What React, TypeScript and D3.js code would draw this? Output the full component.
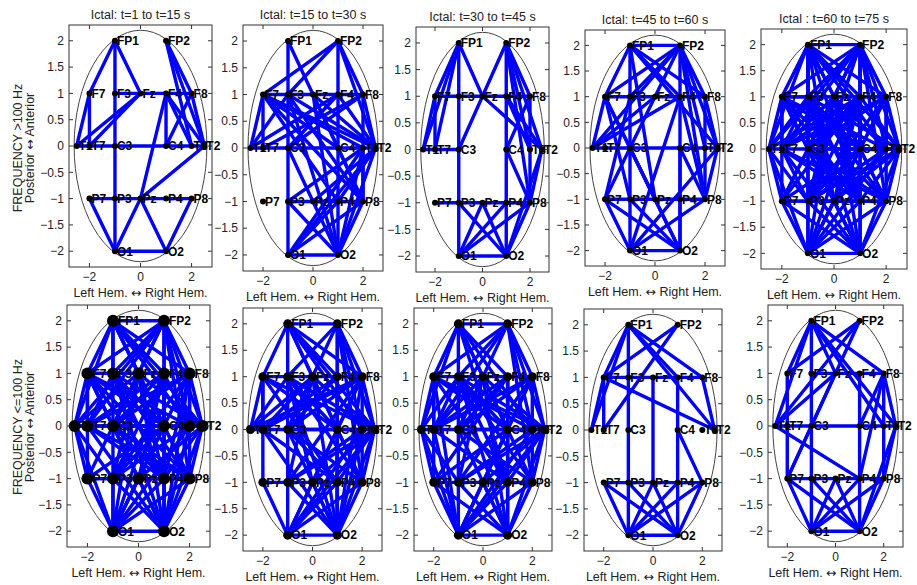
import React from 'react';
import * as d3 from 'd3';

// electrode montage (scalp coordinates)
const NODES = ['FP1', 'FP2', 'F7', 'F3', 'Fz', 'F4', 'F8', 'T1', 'T7', 'C3', 'C4', 'T8', 'T2', 'P7', 'P3', 'Pz', 'P4', 'P8', 'O1', 'O2'];
const NODE_X = [-1, 1, -2, -1, 0, 1, 2, -2.5, -2, -1, 1, 2, 2.5, -2, -1, 0, 1, 2, -1, 1];
const NODE_Y = [2, 2, 1, 1, 1, 1, 1, 0, 0, 0, 0, 0, 0, -1, -1, -1, -1, -1, -2, -2];

const TITLES = ['Ictal: t=1 to t=15 s', 'Ictal: t=15 to t=30 s', 'Ictal: t=30 to t=45 s', 'Ictal: t=45 to t=60 s', 'Ictal : t=60 to t=75 s'];
const ROW_LABELS = ['FREQUENCY >100 Hz', 'FREQUENCY <=100 Hz'];
const Y_TICKS = [-2, -1.5, -1, -0.5, 0, 0.5, 1, 1.5, 2];
const X_TICKS = [-2, 0, 2];

// >100 Hz networks
const HI_1 = 'FP1-O1 FP1-F7 FP1-Fz F7-T1 F7-T7 T1-Fz T7-Fz F3-Fz Fz-F4 F4-F8 T1-T7 T7-C3 C3-C4 C4-T8 T8-T2 FP2-F8 FP2-T8 FP2-T2 F4-C4 F4-T8 F4-T2 F4-Pz F8-C4 F8-T2 T2-Pz P7-P3 P3-Pz Pz-P4 P4-P8 P7-O1 P8-O2 O1-O2 O1-Pz Pz-O2'.split(' ');
const HI_2 = 'FP1-O1 FP2-O2 FP1-C4 FP2-F8 FP2-T2 FP2-F3 FP2-F7 F7-T1 F7-T7 F7-F3 F3-Fz Fz-F4 F4-F8 T1-T7 T7-C3 C3-C4 C4-T8 T8-T2 F7-T2 F7-T8 F7-P4 F7-P8 F7-C4 T1-F4 T1-F3 T7-F8 C3-F8 C3-F4 F3-T2 F3-P8 Fz-T2 Fz-P8 Fz-O2 F8-P8 F8-T2 F4-T2 P3-Pz Pz-P4 P4-P8 O1-O2 O1-T2 O1-T8 O1-P8 O1-P4 O2-T2 O2-T8 O2-P8 O2-P3 Pz-T2 P4-T2 P3-T8 C3-O2 F3-O2 T8-P8 C4-P8'.split(' ');
const HI_3 = 'FP1-O1 FP2-O2 FP1-F7 FP1-T1 FP1-T7 FP1-Fz FP2-C3 FP2-F8 FP2-T8 FP2-T2 FP2-P8 F7-T1 F7-T7 F7-F3 F3-Fz Fz-F4 F4-F8 Fz-T2 F4-T2 F4-T8 F8-C4 F8-P8 T2-P8 T1-T7 T7-C3 C4-P8 P7-P3 P3-Pz Pz-P4 P4-P8 O1-O2 O1-P4 O1-P8 Pz-O2 P3-O2 Pz-O1 O2-P8 O2-T2'.split(' ');
const HI_4 = 'FP1-FP2 FP1-O1 FP2-O2 FP1-F7 FP1-F4 FP1-F8 FP1-T2 FP1-Pz FP2-F7 FP2-F3 FP2-T1 FP2-C3 FP2-F8 FP2-T8 FP2-T2 FP2-P8 F7-F3 F3-Fz Fz-F4 F4-F8 F7-T1 F7-P3 F7-Pz F7-O2 T1-F4 T1-Fz T1-T7 T7-C3 C3-C4 C4-T8 T8-T2 C3-P7 C3-O2 P7-P3 P3-Pz Pz-P4 P4-P8 P7-O1 P7-F3 O1-O2 O1-P8 O1-T2 O1-F4 O2-P7 O2-P3 P8-F8 P8-C4 P8-T2 P8-F4 F8-T2 C4-O2'.split(' ');
const HI_5 = 'FP1-FP2 FP1-F7 FP1-T1 FP1-F3 FP1-C3 FP1-P3 FP1-O1 FP1-Fz FP1-F4 FP1-F8 FP1-T8 FP1-T2 FP1-P4 FP1-Pz FP1-C4 FP2-F7 FP2-F3 FP2-Fz FP2-C3 FP2-T7 FP2-P3 FP2-F8 FP2-T8 FP2-T2 FP2-P8 FP2-O2 FP2-C4 FP2-P4 FP2-T1 F7-T1 F7-T7 F7-F3 F7-C3 F7-P7 F7-C4 F7-T8 F7-P4 F7-P8 F7-O2 F7-Pz F7-F8 F3-T1 F3-T7 F3-Fz F3-C4 F3-T2 F3-P8 F3-P4 F3-O2 F3-Pz Fz-T7 Fz-C3 Fz-F4 Fz-C4 Fz-T8 Fz-P3 Fz-P7 Fz-P4 Fz-O1 Fz-O2 Fz-P8 F4-F8 F4-T7 F4-C3 F4-C4 F4-T2 F4-P3 F4-P7 F4-Pz F4-O1 F4-T1 F8-T2 F8-T8 F8-C4 F8-P8 F8-C3 F8-P3 F8-O1 F8-T7 T1-T7 T1-P7 T1-P3 T1-O1 T7-C3 T7-P4 T7-P8 T7-P3 T7-O2 C3-C4 C3-P4 C3-P8 C3-O2 C3-T2 C3-P7 C4-T8 C4-P3 C4-P7 C4-O1 C4-P8 C4-Pz T8-T2 T8-P3 T8-O1 T8-Pz T2-P8 T2-O2 T2-P4 T2-Pz T2-P3 P7-P3 P7-O1 P7-O2 P7-P4 P3-Pz P3-O1 P3-O2 P3-P8 Pz-P4 Pz-O1 Pz-O2 P4-P8 P4-O1 P4-O2 P8-O1 P8-O2 O1-O2'.split(' ');

// <=100 Hz networks
const LO_1 = 'FP1-FP2 FP1-F7 FP1-T1 FP1-F3 FP1-O1 FP1-Fz FP1-F4 FP1-F8 FP1-T2 FP1-C4 FP1-P8 FP1-T8 FP2-F7 FP2-F3 FP2-Fz FP2-C3 FP2-T7 FP2-F8 FP2-T2 FP2-T8 FP2-O2 FP2-P8 FP2-P4 FP2-T1 F7-T1 F7-T7 F7-F3 F7-P7 F7-C4 F7-T8 F7-P4 F7-O2 F7-F8 F7-Pz F7-C3 F7-P8 F3-T7 F3-Fz F3-C4 F3-T2 F3-P8 F3-O2 F3-P4 Fz-T1 Fz-C3 Fz-F4 Fz-C4 Fz-T2 Fz-P3 Fz-P4 Fz-O1 Fz-O2 Fz-P7 F4-F8 F4-T7 F4-C3 F4-C4 F4-T8 F4-P3 F4-Pz F4-O1 F4-O2 F8-T2 F8-T8 F8-C3 F8-P8 F8-P3 F8-O1 F8-O2 F8-T7 F8-P4 T1-T7 T1-P7 T1-O1 T1-P3 T1-C4 T7-C3 T7-P4 T7-P8 T7-O2 C3-C4 C3-P8 C3-O2 C3-T2 C3-P4 C4-T8 C4-P3 C4-O1 C4-P8 C4-P7 T8-T2 T8-P3 T8-O1 T8-O2 T2-P8 T2-O2 T2-P4 T2-Pz P7-P3 P7-O1 P7-P4 P3-Pz P3-O1 P3-O2 Pz-P4 Pz-O1 Pz-O2 P4-P8 P4-O1 P4-O2 P8-O1 P8-O2 O1-O2'.split(' ');
const LO_2 = 'FP1-FP2 FP1-O1 FP1-F7 FP1-Fz FP1-F4 FP1-C4 FP1-T8 FP1-F8 FP1-T2 FP2-F8 FP2-T8 FP2-T2 FP2-P8 FP2-O2 FP2-F3 FP2-C3 FP2-P4 F7-T1 F7-T7 F7-F3 F7-P7 F7-C4 F7-T2 F7-P4 F3-Fz F3-T1 F3-C4 F3-T2 F3-P8 F3-O2 F3-Pz Fz-F4 Fz-T1 Fz-T7 Fz-C3 Fz-P3 Fz-P8 Fz-O2 Fz-T2 F4-F8 F4-T7 F4-C3 F4-P4 F4-O2 F8-T2 F8-P8 F8-C3 F8-T7 F8-Pz F8-P3 F8-O1 F8-O2 F8-T1 T1-T7 T7-C3 T7-P4 T7-O2 C3-C4 C3-T2 C3-P4 C3-P8 C3-O2 C4-T8 C4-P8 C4-O2 T8-T2 T8-O1 T8-O2 T2-P8 T2-O2 T2-O1 T2-Pz T2-P4 T2-P3 P7-P3 P7-O1 P3-Pz P3-O2 P3-T8 Pz-P4 Pz-O1 Pz-O2 P4-P8 P4-O1 P4-O2 P8-O1 P8-O2 O1-O2'.split(' ');
const LO_3 = 'FP1-FP2 FP1-O1 FP1-F7 FP1-T1 FP1-Fz FP1-F4 FP1-C4 FP1-T8 FP1-P4 FP2-F7 FP2-F3 FP2-C3 FP2-T7 FP2-F8 FP2-T2 FP2-T8 FP2-P8 F7-T1 F7-T7 F7-P7 F7-F3 F7-C4 F7-T2 F7-P4 F7-O1 F7-T8 F3-Fz F3-T1 F3-T7 F3-C4 F3-T2 F3-P8 F3-P4 F3-O2 Fz-F4 Fz-T7 Fz-C3 Fz-P3 Fz-T2 Fz-P8 Fz-O2 F4-F8 F4-C4 F4-P4 F4-O2 F4-T7 F4-C3 F4-P7 F8-T2 F8-P8 F8-C3 F8-T7 F8-P3 F8-Pz F8-O1 T1-T7 T1-P7 T1-O1 T1-P3 T7-C3 T7-P4 T7-O1 C3-C4 C3-P8 C3-O2 C3-T2 C4-T8 C4-P7 C4-O1 T8-T2 T8-O1 T8-P3 T2-P8 T2-O2 T2-O1 T2-Pz T2-P3 T2-P4 P7-P3 P7-O1 P7-O2 P3-Pz P3-O2 Pz-P4 Pz-O2 Pz-O1 P4-P8 P4-O1 P4-O2 P8-O1 P8-O2 O1-O2'.split(' ');
const LO_4 = 'FP1-O1 FP1-F7 FP1-T1 FP1-F4 FP1-F8 FP1-T2 FP2-F7 FP2-T7 F7-F3 F3-Fz Fz-F4 F4-F8 F7-T1 F7-T7 F7-T2 F8-T2 Fz-Pz F4-O2 C4-P8 P7-P3 P3-Pz Pz-P4 P4-P8 P7-O1 P7-O2 P3-O2 Pz-O1 Pz-O2 P4-O1 P8-O1 P8-O2 O1-O2'.split(' ');
const LO_5 = 'FP1-O1 FP1-F7 FP1-T1 FP1-Fz FP1-F8 FP1-T8 FP1-T2 FP2-F7 FP2-C3 FP2-T1 F3-Fz Fz-F4 F4-F8 F4-O2 F8-T2 F8-C4 F8-P8 T1-T7 T7-C3 C3-C4 C4-T8 T8-T2 T1-P4 T1-Fz F7-P7 C3-P7 Fz-P7 P7-P3 P3-Pz Pz-P4 P4-P8 P7-O1 P7-O2 P3-O2 Pz-O1 Pz-O2 P4-O1 P8-O1 P8-O2 T2-O2 T2-P8 O1-O2 F8-P4'.split(' ');

const EDGES = [HI_1, HI_2, HI_3, HI_4, HI_5, LO_1, LO_2, LO_3, LO_4, LO_5];

// panel boxes in page pixels
const BOXES = [
  [69, 212, 25, 267], [243, 383, 25, 271], [416, 549, 27, 272], [585, 725, 30, 266], [761, 907, 29, 269],
  [67, 210, 305, 547], [243, 382, 308, 551], [414, 552, 308, 551], [584, 722, 309, 551], [768, 903, 305, 547],
];
const DOT_R = [3, 3, 3, 3, 3, 6, 4.5, 4.5, 3, 3];

const FONT = '"Liberation Sans", Arial, Helvetica, sans-serif';
const ARROW_FONT = '"DejaVu Sans", sans-serif';
const fmt = (v: number) => (v < 0 ? '\u2212' + Math.abs(v) : String(v));

function Panel({ idx }: { idx: number }) {
  const [bx0, bx1, by0, by1] = BOXES[idx];
  const x = d3.scaleLinear().domain([-2.8, 2.8]).range([bx0, bx1]);
  const y = d3.scaleLinear().domain([-2.3, 2.3]).range([by1, by0]);
  const pos = (name: string) => {
    const i = NODES.indexOf(name);
    return [x(NODE_X[i]), y(NODE_Y[i])];
  };
  const r = DOT_R[idx];
  const row = idx < 5 ? 0 : 1;
  return (
    <g>
      <rect x={bx0} y={by0} width={bx1 - bx0} height={by1 - by0} fill="#fff" stroke="#333" strokeWidth={1} />
      <ellipse cx={x(0)} cy={y(0)} rx={x(2.6) - x(0)} ry={y(0) - y(2.2)} fill="none" stroke="#444" strokeWidth={1} />
      {EDGES[idx].map((e, k) => {
        const [a, b] = e.split('-');
        const [x1, y1] = pos(a);
        const [x2, y2] = pos(b);
        return <line key={k} x1={x1} y1={y1} x2={x2} y2={y2} stroke="#0000ff" strokeWidth={3.4} strokeLinecap="round" />;
      })}
      {NODES.map((n, i) => (
        <circle key={n} cx={x(NODE_X[i])} cy={y(NODE_Y[i])} r={r} fill="#000" />
      ))}
      {NODES.map((n, i) => (
        <text key={n} x={x(NODE_X[i]) + Math.max(2, r - 1)} y={y(NODE_Y[i])} dy="0.36em" fontSize={12} fontWeight="bold" fill="#000">{n}</text>
      ))}
      {Y_TICKS.map(t => (
        <g key={t}>
          <line x1={bx0} x2={bx0 + 4} y1={y(t)} y2={y(t)} stroke="#333" />
          <line x1={bx1} x2={bx1 - 4} y1={y(t)} y2={y(t)} stroke="#333" />
          <text x={bx0 - 5} y={y(t)} dy="0.35em" textAnchor="end" fontSize={12} fill="#222">{fmt(t)}</text>
        </g>
      ))}
      {X_TICKS.map(t => (
        <g key={t}>
          <line x1={x(t)} x2={x(t)} y1={by1} y2={by1 - 4} stroke="#333" />
          <line x1={x(t)} x2={x(t)} y1={by0} y2={by0 + 4} stroke="#333" />
          <text x={x(t)} y={by1 + 14} textAnchor="middle" fontSize={12} fill="#222">{fmt(t)}</text>
        </g>
      ))}
      <text x={(bx0 + bx1) / 2} y={by1 + 30} textAnchor="middle" fontSize={12.5} fill="#222">
        Left Hem. <tspan fontFamily={ARROW_FONT}>↔</tspan> Right Hem.
      </text>
      {row === 0 && (
        <text x={(bx0 + bx1) / 2} y={by0 - 6} textAnchor="middle" fontSize={12.5} fill="#222">{TITLES[idx]}</text>
      )}
    </g>
  );
}

export default function App() {
  const W = 917, H = 585;
  return (
    <div style={{ position: 'absolute', left: 0, top: 0 }}>
      <svg width={W} height={H} style={{ display: 'block', background: '#fff', fontFamily: FONT }}>
        {EDGES.map((_, i) => <Panel key={i} idx={i} />)}
        {ROW_LABELS.map((lab, r) => {
          const cy = r === 0 ? 148 : 427;
          return (
            <g key={lab}>
              <text transform={`translate(22,${cy}) rotate(-90)`} textAnchor="middle" fontSize={12.5} fill="#222">{lab}</text>
              <text transform={`translate(34,${cy}) rotate(-90)`} textAnchor="middle" fontSize={12.5} fill="#222">
                Posterior <tspan fontFamily={ARROW_FONT}>↔</tspan> Anterior
              </text>
            </g>
          );
        })}
      </svg>
    </div>
  );
}
